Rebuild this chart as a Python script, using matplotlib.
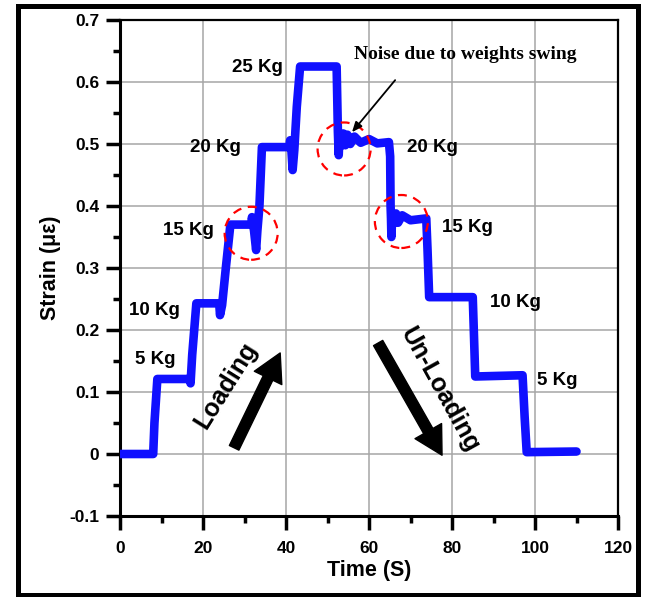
import matplotlib
matplotlib.use("Agg")
import matplotlib.pyplot as plt
from matplotlib.patches import Ellipse, Rectangle
from matplotlib.ticker import MultipleLocator

# ---- data ----
time_s = [0, 8.0, 8.3, 9.0, 16.8, 17.0, 17.4, 18.4, 23.9, 24.1, 24.6, 25.5, 26.6,
          31.6, 31.8, 32.3, 32.8, 33.1, 33.6, 34.2, 40.8, 41.0, 41.3, 41.6, 42.0,
          42.6, 43.4, 52.2, 52.5, 52.7, 52.9, 53.3, 53.8, 54.3, 54.8, 55.5, 56.5,
          58.0, 60.0, 62.0, 64.8, 65.1, 65.2, 65.3, 65.4, 65.6, 66.0, 66.5, 67.0,
          68.0, 70.0, 73.8, 74.1, 74.5, 85.0, 85.3, 85.6, 97.0, 97.5, 98.0, 110.0]
strain = [0.0, 0.0, 0.05, 0.121, 0.121, 0.114, 0.16, 0.243, 0.243, 0.224, 0.24, 0.30, 0.37,
          0.370, 0.382, 0.36, 0.329, 0.36, 0.40, 0.495, 0.495, 0.506, 0.49, 0.458, 0.49,
          0.56, 0.625, 0.625, 0.52, 0.482, 0.515, 0.497, 0.517, 0.498, 0.515, 0.50, 0.512,
          0.502, 0.508, 0.501, 0.503, 0.48, 0.40, 0.38, 0.35, 0.385, 0.372, 0.388, 0.373,
          0.385, 0.377, 0.38, 0.33, 0.253, 0.253, 0.19, 0.125, 0.127, 0.06, 0.003, 0.004]

x_ticks = [0, 20, 40, 60, 80, 100, 120]
y_ticks = [-0.1, 0, 0.1, 0.2, 0.3, 0.4, 0.5, 0.6, 0.7]
y_tick_labels = ["-0.1", "0", "0.1", "0.2", "0.3", "0.4", "0.5", "0.6", "0.7"]

load_labels = ["5 Kg", "10 Kg", "15 Kg", "20 Kg", "25 Kg", "20 Kg", "15 Kg", "10 Kg", "5 Kg"]
load_label_t = [8.4, 8.3, 16.4, 22.9, 33.0, 75.2, 83.6, 95.2, 105.3]
load_label_s = [0.152, 0.232, 0.361, 0.495, 0.623, 0.495, 0.366, 0.245, 0.119]

noise_t = [31.6, 54.0, 67.8]
noise_s = [0.356, 0.492, 0.375]

# ---- figure ----
W, H, DPI = 656, 597, 100
fig = plt.figure(figsize=(W / DPI, H / DPI), dpi=DPI)
ax = fig.add_axes([120 / W, 1 - 516 / H, 498 / W, 496 / H])

sans = "Liberation Sans"
serif = "Liberation Serif"

ax.plot(time_s, strain, color="#1010ff", lw=6.2, solid_joinstyle="round",
        solid_capstyle="round", zorder=3)

ax.set_xlim(0, 120)
ax.set_ylim(-0.1, 0.7)
ax.set_xticks(x_ticks)
ax.set_yticks(y_ticks)
ax.set_yticklabels(y_tick_labels)
ax.xaxis.set_minor_locator(MultipleLocator(10))
ax.yaxis.set_minor_locator(MultipleLocator(0.05))
ax.grid(True, which="major", color="#a6a6a6", lw=1.1, zorder=0)

ax.tick_params(which="major", direction="out", length=10, width=2.5, top=False, right=False)
ax.tick_params(which="minor", direction="out", length=5, width=2.5, top=False, right=False)
ax.tick_params(axis="x", which="major", pad=8)
ax.tick_params(axis="y", which="major", pad=5)
for lab in ax.get_xticklabels() + ax.get_yticklabels():
    lab.set_fontfamily(sans)
    lab.set_fontweight("bold")
    lab.set_fontsize(12.5)

ax.spines["left"].set_linewidth(2.2)
ax.spines["bottom"].set_linewidth(2.2)
ax.spines["top"].set_linewidth(1.6)
ax.spines["right"].set_linewidth(1.6)

ax.set_xlabel("Time (S)", fontfamily=sans, fontweight="bold", fontsize=15.5, labelpad=3)
ax.set_ylabel("Strain (με)", fontfamily=sans, fontweight="bold", fontsize=15.5, labelpad=6)

for txt, t, s in zip(load_labels, load_label_t, load_label_s):
    ax.text(t, s, txt, ha="center", va="center", fontfamily=sans,
            fontweight="bold", fontsize=13.5, zorder=4)

# dashed circles (round in pixels)
px_t = 498 / 120.0
px_s = 496 / 0.8
r = 26.5
for t, s in zip(noise_t, noise_s):
    ax.add_patch(Ellipse((t, s), 2 * r / px_t, 2 * r / px_s, fill=False,
                         edgecolor="red", lw=1.6, ls=(0, (4, 3)), zorder=5))

# noise annotation
ax.annotate("", xy=(55.9, 0.519), xytext=(66.3, 0.603),
            arrowprops=dict(arrowstyle="-|>,head_length=0.6,head_width=0.25",
                            color="black", lw=1.3, shrinkA=0, shrinkB=0), zorder=6)
ax.text(83.1, 0.644, "Noise due to weights swing", ha="center", va="center",
        fontfamily=serif, fontweight="bold", fontsize=14, zorder=6)

# loading / unloading arrows
arrow_style = "simple,head_length=1.0,head_width=1.1,tail_width=0.38"
ax.annotate("", xy=(38.6, 0.163), xytext=(27.5, 0.010),
            arrowprops=dict(arrowstyle=arrow_style, color="black", mutation_scale=20,
                            shrinkA=0, shrinkB=0), zorder=6)
ax.annotate("", xy=(77.6, -0.002), xytext=(62.2, 0.179),
            arrowprops=dict(arrowstyle=arrow_style, color="black", mutation_scale=20,
                            shrinkA=0, shrinkB=0), zorder=6)
ax.text(25.5, 0.11, "Loading", rotation=58, ha="center", va="center",
        rotation_mode="anchor", fontfamily=sans, fontweight="bold", fontsize=18, zorder=6)
ax.text(77.1, 0.103, "Un-Loading", rotation=-61, ha="center", va="center",
        rotation_mode="anchor", fontfamily=sans, fontweight="bold", fontsize=18, zorder=6)

# outer frame
fig.patches.append(Rectangle((17.5 / W, 1 - 594.5 / H), 620 / W, 589 / H,
                             transform=fig.transFigure, fill=False,
                             edgecolor="black", lw=3.6))

fig.savefig("out.png", dpi=DPI)
